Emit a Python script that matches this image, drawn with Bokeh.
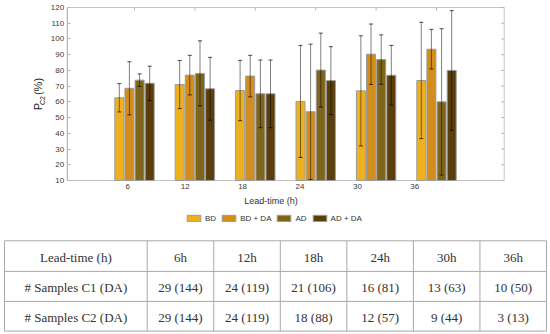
import numpy as np
from bokeh.plotting import figure
from bokeh.models import (Range1d, LinearAxis, FixedTicker, Whisker, TeeHead,
                          ColumnDataSource, Legend, LegendItem, Label)
from bokeh.core.properties import value
from bokeh.embed import file_html
from bokeh.resources import INLINE

# ---------------- data ----------------
lead_times = [6, 12, 18, 24, 30, 36]
series_names = ["BD", "BD + DA", "AD", "AD + DA"]
bd = [62.6, 71.0, 67.2, 60.3, 67.0, 73.6]
bd_err = [9.0, 15.3, 19.2, 35.6, 35.0, 37.0]
bd_da = [68.6, 77.0, 76.4, 53.7, 90.3, 93.5]
bd_da_err = [16.9, 12.6, 13.2, 43.0, 19.2, 12.6]
ad = [73.8, 78.1, 65.1, 80.2, 86.9, 60.0]
ad_err = [4.0, 20.7, 21.5, 23.5, 15.7, 46.5]
ad_da = [71.8, 68.3, 65.1, 73.5, 76.9, 80.0]
ad_da_err = [10.9, 20.0, 21.5, 21.6, 19.0, 38.0]
y_ticks = list(range(10, 121, 10))

table_header = "Lead-time (h)"
row_c1_label = "# Samples C1 (DA)"
row_c2_label = "# Samples C2 (DA)"
samples_c1 = ["29 (144)", "24 (119)", "21 (106)", "16 (81)", "13 (63)", "10 (50)"]
samples_c2 = ["29 (144)", "24 (119)", "18 (88)", "12 (57)", "9 (44)", "3 (13)"]

means = [bd, bd_da, ad, ad_da]
errors = [bd_err, bd_da_err, ad_err, ad_da_err]
colors = ["#EDB120", "#D28D1D", "#7F651A", "#5A3E0B"]

SANS = "Liberation Sans"
SERIF = "Liberation Serif"
W, H = 550, 334

# ---------------- layout geometry (pixels in the page) ----------------
box_l, box_r, box_t, box_b = 66.7, 503.7, 7.0, 180.0
grp_px0, grp_step = 134.0, 60.4          # bar-group centres
lab_px0, lab_step = 127.3, 57.4          # tick-label positions
y_min, y_max = y_ticks[0], y_ticks[-1]
ypx = (box_b - box_t) / (y_max - y_min)


def gx(px):
    return 1 + (px - grp_px0) / grp_step


def lx(px):
    return 1 + (px - lab_px0) / lab_step


def gy(py):
    return y_max - (py - box_t) / ypx


p = figure(width=W, height=H, output_backend="svg", toolbar_location=None,
           x_range=Range1d(gx(0), gx(W)), y_range=Range1d(gy(H), gy(0)),
           x_axis_location=None, y_axis_location=None, min_border=0)
p.extra_x_ranges = {"lab": Range1d(lx(0), lx(W)), "px": Range1d(0, W)}
p.extra_y_ranges = {"px": Range1d(H, 0)}
p.grid.visible = False
p.outline_line_color = None
p.background_fill_color = "white"
p.border_fill_color = "white"

groups = list(range(1, len(lead_times) + 1))
x_left, x_right = gx(box_l), gx(box_r)

# plot box
p.quad(left=[x_left], right=[x_right], bottom=[y_min], top=[y_max],
       fill_color=None, line_color="#c4c4c4", line_width=1)

left = LinearAxis(ticker=FixedTicker(ticks=y_ticks), fixed_location=x_left,
                  bounds=(y_min, y_max))
left.major_tick_in = 3
left.major_tick_out = 0
left.minor_tick_line_color = None
left.major_label_standoff = 3
left.major_label_text_font = SANS
left.major_label_text_font_size = "8px"
left.major_label_text_color = "#3a3a3a"
left.axis_line_color = "#b5b5b5"
left.major_tick_line_color = "#b5b5b5"
p.add_layout(left, "left")

bottom = LinearAxis(x_range_name="lab", ticker=FixedTicker(ticks=groups),
                    fixed_location=y_min, bounds=(groups[0], groups[-1]),
                    major_label_overrides={g: str(lt) for g, lt in zip(groups, lead_times)})
bottom.major_tick_in = 0
bottom.major_tick_out = 0
bottom.minor_tick_line_color = None
bottom.major_label_standoff = 3
bottom.major_label_text_font = SANS
bottom.major_label_text_font_size = "8px"
bottom.major_label_text_color = "#3a3a3a"
bottom.axis_line_color = None
bottom.axis_label = "Lead-time (h)"
bottom.axis_label_standoff = 4
bottom.axis_label_text_font = SANS
bottom.axis_label_text_font_size = "9px"
bottom.axis_label_text_font_style = "normal"
bottom.axis_label_text_color = "#333333"
p.add_layout(bottom, "below")

# mirrored inward ticks on top and right edges
tick_dy = 3 / ypx
tick_dx = 3 / grp_step
p.segment(x0=groups, x1=groups, y0=[y_max] * len(groups), y1=[y_max - tick_dy] * len(groups),
          line_color="#b5b5b5", line_width=1)
p.segment(x0=[x_right] * len(y_ticks), x1=[x_right - tick_dx] * len(y_ticks),
          y0=y_ticks, y1=y_ticks, line_color="#b5b5b5", line_width=1)

offsets = [-15.2, -5.1, 5.1, 15.2]
bw = 9.0 / grp_step
items = []
for i, (name, vals, errs) in enumerate(zip(series_names, means, errors)):
    xs = [g + offsets[i] / grp_step for g in groups]
    src = ColumnDataSource(dict(x=xs, top=vals,
                                upper=[v + e for v, e in zip(vals, errs)],
                                lower=[v - e for v, e in zip(vals, errs)]))
    r = p.vbar(x="x", top="top", bottom=y_min, width=bw, source=src,
               fill_color=colors[i], line_color="#9c9c9c", line_width=1)
    w = Whisker(base="x", upper="upper", lower="lower", source=src,
                line_color="black", line_alpha=0.5, line_width=1,
                upper_head=TeeHead(size=4, line_color="black", line_alpha=0.7),
                lower_head=TeeHead(size=4, line_color="black", line_alpha=0.7))
    w.level = "overlay"
    p.add_layout(w)
    items.append(LegendItem(label=name, renderers=[r]))

leg_h = 10
legend = Legend(items=items, orientation="horizontal",
                location=(185, H - 212.5 - leg_h),
                glyph_width=17, glyph_height=8, label_height=8, label_width=0,
                label_text_font=SANS, label_text_font_size="8px",
                label_text_color="#333333", label_standoff=3, spacing=4,
                padding=0, margin=0, border_line_color=None,
                background_fill_alpha=0)
p.add_layout(legend)

# y-axis title P_C2 (%)
for txt, x, y, size in [("P", 37.0, 106.0, "11px"), ("C2", 41.5, 100.0, "7px"),
                        ("(%)", 37.0, 86.0, "11px")]:
    p.add_layout(Label(x=x, y=y, x_range_name="px", y_range_name="px", text=txt,
                       angle=np.pi / 2, text_font=SANS, text_font_size=size,
                       text_color="#222222", text_align="center",
                       text_baseline="middle"))

# ---------------- table ----------------
rows = [[table_header] + [f"{lt}h" for lt in lead_times],
        [row_c1_label] + samples_c1,
        [row_c2_label] + samples_c2]
ncols = len(rows[0])
row_y = [240.3, 270.9, 300.9, 330.6]
t_left, t_first, t_right = 4.0, 146.7, 546.0
cw = (t_right - t_first) / (ncols - 1)
col_x = [t_left] + [t_first + k * cw for k in range(ncols)]

p.segment(x0=[t_left] * len(row_y), x1=[t_right] * len(row_y), y0=row_y, y1=row_y,
          x_range_name="px", y_range_name="px", line_color="#a8a8a8", line_width=1)
p.segment(x0=col_x, x1=col_x, y0=[row_y[0]] * len(col_x), y1=[row_y[-1]] * len(col_x),
          x_range_name="px", y_range_name="px", line_color="#a8a8a8", line_width=1)

tx, ty, tt = [], [], []
for ri, row in enumerate(rows):
    for ci, txt in enumerate(row):
        tx.append((col_x[ci] + col_x[ci + 1]) / 2)
        ty.append((row_y[ri] + row_y[ri + 1]) / 2 + 1)
        tt.append(txt)
p.text(x=tx, y=ty, text=tt, x_range_name="px", y_range_name="px",
       text_font=value(SERIF), text_font_size="13px",
       text_color="#333333", text_align="center", text_baseline="middle")

open("out.html", "w").write(file_html(p, INLINE))
